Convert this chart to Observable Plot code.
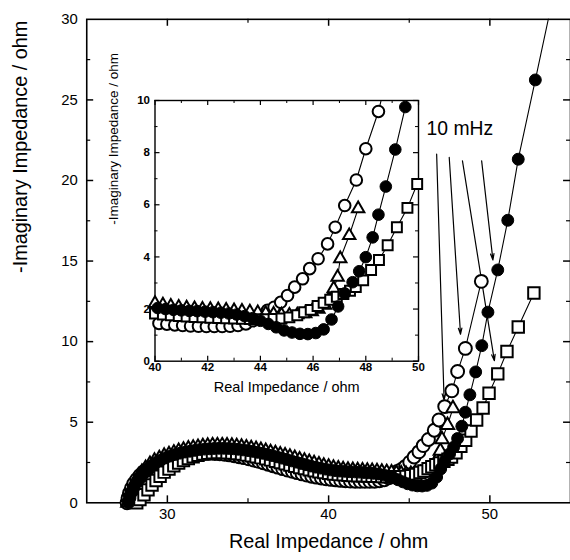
<!DOCTYPE html>
<html>
<head>
<meta charset="utf-8">
<script src="https://cdn.jsdelivr.net/npm/d3@7"></script>
<script src="https://cdn.jsdelivr.net/npm/@observablehq/plot@0.6"></script>
<style>
html, body { margin: 0; padding: 0; background: #fff; overflow: hidden; }
#wrap { position: relative; width: 570px; height: 560px; overflow: hidden; background: #fff; }
#wrap svg { position: absolute; left: 0; top: 0; }
</style>
</head>
<body>
<div id="wrap"></div>
<script>
// ---------- data (x = real impedance, y = -imaginary impedance, ohm) ----------
const openCircles = [
  [27.5,0.0],[27.56,0.3],[27.65,0.6],[27.77,0.9],[27.92,1.2],[28.1,1.45],[28.3,1.7],[28.52,1.92],
  [28.77,2.1],[29.05,2.28],[29.35,2.43],[29.65,2.56],[29.95,2.67],[30.25,2.77],[30.55,2.85],[30.85,2.92],
  [31.15,2.97],[31.45,3.01],[31.75,3.04],[32.05,3.06],[32.35,3.07],[32.65,3.07],[32.95,3.06],[33.25,3.04],
  [33.55,3.01],[33.85,2.97],[34.15,2.92],[34.45,2.86],[34.75,2.8],[35.05,2.73],[35.35,2.65],[35.65,2.57],
  [35.95,2.48],[36.25,2.39],[36.55,2.3],[36.85,2.21],[37.15,2.12],[37.45,2.03],[37.75,1.95],[38.05,1.87],
  [38.35,1.79],[38.65,1.72],[38.95,1.65],[39.25,1.59],[39.55,1.54],[39.85,1.49],[40.15,1.45],[40.45,1.42],
  [40.75,1.39],[41.05,1.37],[41.35,1.35],[41.65,1.34],[41.95,1.33],[42.25,1.33],[42.55,1.33],[42.85,1.34],
  [43.15,1.37],[43.45,1.43],[43.72,1.55],[44.0,1.74],[44.27,1.95],[44.52,2.07],[44.77,2.26],[45.03,2.52],
  [45.3,2.84],[45.6,3.16],[45.87,3.55],[46.19,3.93],[46.55,4.5],[46.84,5.14],[47.2,5.97],[47.64,6.95],
  [48.0,8.15],[48.48,9.58],[49.47,13.74]
];
const triangles = [
  [27.55,0.0],[27.62,0.35],[27.72,0.7],[27.85,1.0],[28.0,1.3],[28.2,1.6],[28.42,1.9],[28.65,2.15],
  [28.92,2.4],[29.2,2.6],[29.5,2.75],[29.8,2.9],[30.1,3.0],[30.4,3.1],[30.7,3.2],[31.0,3.28],
  [31.3,3.35],[31.6,3.4],[31.9,3.45],[32.2,3.5],[32.5,3.52],[32.8,3.55],[33.1,3.55],[33.4,3.55],
  [33.7,3.54],[34.0,3.52],[34.3,3.5],[34.6,3.46],[34.9,3.42],[35.2,3.37],[35.5,3.32],[35.8,3.26],
  [36.1,3.2],[36.4,3.13],[36.7,3.06],[37.0,2.99],[37.3,2.92],[37.6,2.84],[37.9,2.76],[38.2,2.68],
  [38.5,2.6],[38.8,2.52],[39.1,2.44],[39.4,2.36],[39.7,2.29],[40.0,2.22],[40.3,2.16],[40.6,2.11],
  [40.9,2.07],[41.2,2.04],[41.5,2.02],[41.8,2.0],[42.1,1.99],[42.4,1.98],[42.7,1.96],[43.0,1.94],
  [43.3,1.92],[43.6,1.89],[43.9,1.86],[44.2,1.83],[44.5,1.8],[44.8,1.78],[45.1,1.77],[45.4,1.78],
  [45.7,1.82],[45.95,1.9],[46.2,2.0],[46.45,2.15],[46.61,2.39],[46.78,2.78],[46.93,3.22],[47.03,3.93],
  [47.37,4.82],[47.71,5.85]
];
const filledCircles = [
  [27.6,0.0],[27.68,0.3],[27.8,0.65],[27.93,0.95],[28.1,1.25],[28.3,1.5],[28.52,1.8],[28.75,2.05],
  [29.02,2.3],[29.3,2.5],[29.6,2.65],[29.9,2.8],[30.2,2.9],[30.5,3.0],[30.8,3.08],[31.1,3.15],
  [31.4,3.2],[31.7,3.25],[32.0,3.3],[32.3,3.33],[32.6,3.35],[32.9,3.37],[33.2,3.38],[33.5,3.38],
  [33.8,3.37],[34.1,3.35],[34.4,3.32],[34.7,3.28],[35.0,3.24],[35.3,3.19],[35.6,3.13],[35.9,3.07],
  [36.2,3.0],[36.5,2.93],[36.8,2.85],[37.1,2.77],[37.4,2.69],[37.7,2.6],[38.0,2.52],[38.3,2.44],
  [38.6,2.36],[38.9,2.28],[39.2,2.21],[39.5,2.15],[39.8,2.09],[40.1,2.04],[40.4,2.0],[40.7,1.97],
  [41.0,1.95],[41.3,1.93],[41.6,1.92],[41.9,1.9],[42.2,1.88],[42.5,1.86],[42.8,1.83],[43.1,1.79],
  [43.4,1.73],[43.7,1.65],[44.0,1.55],[44.3,1.43],[44.6,1.3],[44.9,1.18],[45.2,1.1],[45.5,1.05],
  [45.8,1.04],[46.1,1.08],[46.4,1.22],[46.7,1.6],[46.95,2.1],[47.2,2.6],[47.5,3.03],[47.75,3.45],
  [48.0,3.99],[48.26,4.75],[48.48,5.62],[48.76,6.7],[49.12,8.12],[49.5,9.75],[49.88,11.83],[50.49,14.45],
  [51.11,17.53],[51.76,21.32],[52.82,26.24],[53.9,31.3]
];
const squares = [
  [28.1,0.0],[28.3,0.2],[28.55,0.5],[28.8,0.8],[29.05,1.1],[29.3,1.38],[29.55,1.65],[29.8,1.9],
  [30.1,2.1],[30.4,2.3],[30.7,2.47],[31.0,2.62],[31.3,2.75],[31.6,2.86],[31.9,2.95],[32.2,3.02],
  [32.5,3.07],[32.8,3.1],[33.1,3.12],[33.4,3.12],[33.7,3.11],[34.0,3.09],[34.3,3.06],[34.6,3.02],
  [34.9,2.97],[35.2,2.92],[35.5,2.86],[35.8,2.8],[36.1,2.73],[36.4,2.66],[36.7,2.58],[37.0,2.5],
  [37.3,2.42],[37.6,2.34],[37.9,2.26],[38.2,2.19],[38.5,2.12],[38.8,2.05],[39.1,1.99],[39.4,1.93],
  [39.7,1.88],[40.0,1.83],[40.3,1.79],[40.6,1.76],[40.9,1.73],[41.2,1.71],[41.5,1.69],[41.8,1.68],
  [42.1,1.67],[42.4,1.66],[42.7,1.65],[43.0,1.64],[43.3,1.63],[43.6,1.62],[43.9,1.61],[44.2,1.61],
  [44.5,1.62],[44.8,1.64],[45.1,1.68],[45.4,1.76],[45.66,1.88],[45.91,1.97],[46.17,2.12],[46.4,2.24],
  [46.65,2.36],[46.9,2.47],[47.15,2.58],[47.4,2.7],[47.62,2.84],[47.9,3.1],[48.2,3.5],[48.5,3.88],
  [48.83,4.45],[49.18,5.14],[49.58,5.88],[49.95,6.8],[50.49,8.0],[51.06,9.39],[51.76,10.91],[52.73,13.02]
];

// axis ticks
const xMajor = [30, 40, 50];
const xMinor = [35, 45];
const yMajor = [0, 5, 10, 15, 20, 25, 30];
const yMinor = [2.5, 7.5, 12.5, 17.5, 22.5, 27.5];
const insetXMajor = [40, 42, 44, 46, 48, 50];
const insetXMinor = [41, 43, 45, 47, 49];
const insetYMajor = [0, 2, 4, 6, 8, 10];
const insetYMinor = [1, 3, 5, 7, 9];

// annotations
const annoLabel = ["10 mHz"];
const annoLabelX = [48.14];
const annoLabelY = [23.23];
const arrowX1 = [46.70, 47.48, 48.30, 49.49];
const arrowY1 = [21.63, 21.43, 21.22, 21.22];
const arrowX2 = [47.16, 48.18, 50.28, 50.19];
const arrowY2 = [6.38, 10.46, 8.82, 15.07];

const xTitle = "Real Impedance / ohm";
const yTitle = "-Imaginary Impedance / ohm";

// ---------- build ----------
const toPts = arr => arr.map(([x, y]) => ({x, y}));
const S = {
  open: toPts(openCircles),
  tri: toPts(triangles),
  sq: toPts(squares),
  fill: toPts(filledCircles)
};
const arrows = arrowX1.map((x1, i) => ({x1, y1: arrowY1[i], x2: arrowX2[i], y2: arrowY2[i]}));
const labels = annoLabel.map((t, i) => ({t, x: annoLabelX[i], y: annoLabelY[i]}));

const font = "'Liberation Sans', Arial, Helvetica, sans-serif";
const K = "black";

// main chart geometry
const W = 575, H = 560, mL = 87, mR = 0, mT = 19, mB = 53.3;
const iw = W - mL - mR, ih = H - mT - mB;

function seriesMarks() {
  return ["open", "tri", "sq", "fill"].map(key =>
    Plot.line(S[key], {x: "x", y: "y", stroke: K, strokeWidth: 1.1, clip: true}));
}
function dotMarks(filterFn, sz) {
  return [
    Plot.dot(S.open.filter(filterFn), {x: "x", y: "y", r: sz.open, fill: "white", stroke: K, strokeWidth: 2}),
    Plot.dot(S.tri.filter(filterFn), {x: "x", y: "y", symbol: "triangle", r: sz.tri, fill: "white", stroke: K, strokeWidth: 2}),
    Plot.dot(S.sq.filter(filterFn), {x: "x", y: "y", symbol: "square", r: sz.sq, fill: "white", stroke: K, strokeWidth: 2}),
    Plot.dot(S.fill.filter(filterFn), {x: "x", y: "y", r: sz.fill, fill: K, stroke: K, strokeWidth: 1})
  ];
}

const mainPlot = Plot.plot({
  width: W, height: H,
  marginLeft: mL, marginRight: mR, marginTop: mT, marginBottom: mB,
  x: {domain: [25, 55], axis: null},
  y: {domain: [0, 30], axis: null},
  style: {fontFamily: font, background: "transparent", color: K},
  marks: [
    Plot.frame({stroke: K, strokeWidth: 1.6}),
    // inward ticks: bottom, top, left, right
    Plot.tickX(xMajor, {x: d => d, insetTop: ih - 7, stroke: K, strokeWidth: 1.5}),
    Plot.tickX(xMinor, {x: d => d, insetTop: ih - 4, stroke: K, strokeWidth: 1.2}),
    Plot.tickX(xMajor, {x: d => d, insetBottom: ih - 7, stroke: K, strokeWidth: 1.5}),
    Plot.tickX(xMinor, {x: d => d, insetBottom: ih - 4, stroke: K, strokeWidth: 1.2}),
    Plot.tickY(yMajor.slice(1, -1), {y: d => d, insetRight: iw - 7, stroke: K, strokeWidth: 1.5}),
    Plot.tickY(yMinor, {y: d => d, insetRight: iw - 4, stroke: K, strokeWidth: 1.2}),
    Plot.tickY(yMajor.slice(1, -1), {y: d => d, insetLeft: iw - 7, stroke: K, strokeWidth: 1.5}),
    Plot.tickY(yMinor, {y: d => d, insetLeft: iw - 4, stroke: K, strokeWidth: 1.2}),
    // tick labels
    Plot.text(xMajor, {x: d => d, text: d => String(d), frameAnchor: "bottom", dy: 16.5, fontSize: 15, fill: K}),
    Plot.text(yMajor, {y: d => d, text: d => String(d), frameAnchor: "left", textAnchor: "end", dx: -9, fontSize: 15, fill: K}),
    // axis titles
    Plot.text([xTitle], {text: d => d, frameAnchor: "bottom", dy: 46, fontSize: 20, fill: K}),
    Plot.text([yTitle], {text: d => d, frameAnchor: "left", rotate: -90, dx: -67, dy: 12, fontSize: 20, fill: K}),
    // series lines
    ...seriesMarks(),
    // arrows
    Plot.arrow(arrows, {x1: "x1", y1: "y1", x2: "x2", y2: "y2", stroke: K, strokeWidth: 1.2, headLength: 8, headAngle: 32}),
    // markers
    ...dotMarks(d => d.y <= 30 && d.x <= 55, {open: 6.5, tri: 5, sq: 6.5, fill: 6}),
    // annotation
    Plot.text(labels, {x: "x", y: "y", text: "t", fontSize: 19.5, fill: K})
  ]
});

// inset geometry
const IW = 570, iL = 154.5, iR = 152, iT = 100, iB = 199.3;
const iiw = IW - iL - iR, iih = H - iT - iB;

const insetPlot = Plot.plot({
  width: IW, height: H,
  marginLeft: iL, marginRight: iR, marginTop: iT, marginBottom: iB,
  x: {domain: [40, 50], axis: null},
  y: {domain: [0, 10], axis: null},
  style: {fontFamily: font, background: "transparent", color: K},
  marks: [
    Plot.frame({fill: "white", stroke: K, strokeWidth: 1.4}),
    Plot.tickX(insetXMajor, {x: d => d, insetTop: iih - 5, stroke: K, strokeWidth: 1.2}),
    Plot.tickX(insetXMinor, {x: d => d, insetTop: iih - 3, stroke: K, strokeWidth: 1}),
    Plot.tickX(insetXMajor, {x: d => d, insetBottom: iih - 5, stroke: K, strokeWidth: 1.2}),
    Plot.tickX(insetXMinor, {x: d => d, insetBottom: iih - 3, stroke: K, strokeWidth: 1}),
    Plot.tickY(insetYMajor, {y: d => d, insetRight: iiw - 5, stroke: K, strokeWidth: 1.2}),
    Plot.tickY(insetYMinor, {y: d => d, insetRight: iiw - 3, stroke: K, strokeWidth: 1}),
    Plot.tickY(insetYMajor, {y: d => d, insetLeft: iiw - 5, stroke: K, strokeWidth: 1.2}),
    Plot.tickY(insetYMinor, {y: d => d, insetLeft: iiw - 3, stroke: K, strokeWidth: 1}),
    Plot.text(insetXMajor, {x: d => d, text: d => String(d), frameAnchor: "bottom", dy: 10, fontSize: 11.5, fontWeight: "bold", fill: K}),
    Plot.text(insetYMajor, {y: d => d, text: d => String(d), frameAnchor: "left", textAnchor: "end", dx: -5, fontSize: 11.5, fontWeight: "bold", fill: K}),
    Plot.text([xTitle], {text: d => d, frameAnchor: "bottom", dy: 31, fontSize: 14.5, fill: K}),
    Plot.text([yTitle], {text: d => d, frameAnchor: "left", rotate: -90, dx: -41.5, dy: -6, fontSize: 13.5, fill: K}),
    ...seriesMarks(),
    ...dotMarks(d => d.x >= 39.9 && d.x <= 50.1 && d.y <= 10.2, {open: 5.8, tri: 4.6, sq: 5.6, fill: 5.8})
  ]
});

const wrap = document.getElementById("wrap");
wrap.appendChild(mainPlot);
wrap.appendChild(insetPlot);
</script>
</body>
</html>
